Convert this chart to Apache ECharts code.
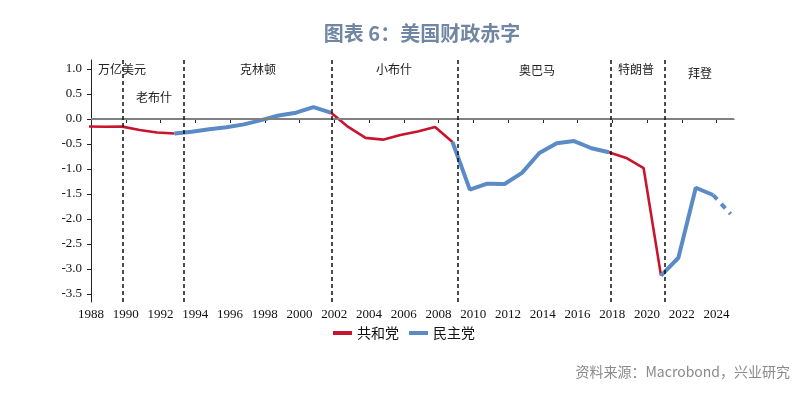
<!DOCTYPE html>
<html><head><meta charset="utf-8">
<script src="https://cdn.jsdelivr.net/npm/echarts@6/dist/echarts.min.js"></script>
<style>html,body{margin:0;padding:0;background:#fff}#c{width:806px;height:395px}</style>
</head><body><div id="c"></div>
<script>
// Fiscal years and federal budget balance (trillion USD)
const fiscalYears = [1987,1988,1989,1990,1991,1992,1993,1994,1995,1996,1997,1998,1999,2000,2001,2002,2003,2004,2005,2006,2007,2008,2009,2010,2011,2012,2013,2014,2015,2016,2017,2018,2019,2020,2021,2022,2023,2024];
const deficitTrillion = [-0.150,-0.155,-0.153,-0.221,-0.269,-0.290,-0.255,-0.203,-0.164,-0.107,-0.022,0.069,0.126,0.236,0.128,-0.158,-0.378,-0.413,-0.318,-0.248,-0.161,-0.459,-1.413,-1.294,-1.300,-1.077,-0.680,-0.485,-0.442,-0.585,-0.665,-0.779,-0.984,-3.132,-2.775,-1.375,-1.52,-1.90];
const fyEndOffset = 0.8; // fiscal-year end plotted within the year
// party segments (inclusive fiscal years)
const segParty = ['共和党','民主党','共和党','民主党','共和党','民主党','民主党'];
const segFrom  = [1987, 1992, 2001, 2008, 2017, 2020, 2023];
const segTo    = [1992, 2001, 2008, 2017, 2020, 2023, 2024];
const segForecast = [false,false,false,false,false,false,true];
// administration boundaries (axis years) and labels
const termBoundaries = [1989.85, 1993.35, 2001.85, 2009.1, 2017.9, 2021.0];
const presidentNames = ['老布什','克林顿','小布什','奥巴马','特朗普','拜登'];
const xTickYears = [1988,1990,1992,1994,1996,1998,2000,2002,2004,2006,2008,2010,2012,2014,2016,2018,2020,2022,2024];
const yTickValues = [1.0,0.5,0.0,-0.5,-1.0,-1.5,-2.0,-2.5,-3.0,-3.5];

const partyColor = {'共和党':'#c8142c','民主党':'#5b8bc6'};
const partyWidth = {'共和党':2.6,'民主党':4};

const series = segParty.map((p,i)=>{
  const data = [];
  fiscalYears.forEach((y,k)=>{ if(y>=segFrom[i] && y<=segTo[i]) data.push([y+fyEndOffset, deficitTrillion[k]]); });
  return {
    name: p, type:'line', data, showSymbol:false, symbol:'none', clip:true,
    itemStyle:{color:partyColor[p]},
    lineStyle:{color:partyColor[p], width:partyWidth[p], type: segForecast[i]?[6,6]:'solid'},
    z: 3
  };
});
series[0].markLine = {
  silent:true, symbol:'none', label:{show:false}, animation:false,
  data: [{yAxis:0, lineStyle:{color:'#808080', type:'solid', width:2}}].concat(
    termBoundaries.map(v=>({xAxis:v, lineStyle:{color:'#111', type:[4,3], width:1.5}})))
};

const labelFont = '12px "Noto Sans CJK SC", sans-serif';
const presX = [154, 258, 394, 537, 636, 700];
const presY = [97, 69, 69, 70, 69, 73];
const graphics = [{type:'text', style:{text:'万亿美元', x:98, y:69, font:labelFont, fill:'#222', textVerticalAlign:'middle'}, z:10}]
  .concat(presidentNames.map((n,i)=>({type:'text', style:{text:n, x:presX[i], y:presY[i], font:labelFont, fill:'#222', textAlign:'center', textVerticalAlign:'middle'}, z:10})));

const chart = echarts.init(document.getElementById('c'), null, {renderer:'canvas'});
chart.setOption({
  animation:false,
  backgroundColor:'#fff',
  title:{text:'图表 6：美国财政赤字', left:417, textAlign:'center', top:18,
    textStyle:{fontFamily:'"Noto Sans CJK SC", sans-serif', fontSize:20, fontWeight:'bold', color:'#7086a2'}},
  grid:{left:91, right:72, top:60, bottom:93, containLabel:false},
  legend:{data:['共和党','民主党'], left:328, top:321, icon:'rect', itemWidth:19, itemHeight:4, itemGap:10,
    textStyle:{fontFamily:'"Noto Sans CJK SC", sans-serif', fontSize:14, color:'#111'}},
  xAxis:{type:'value', min:1988, max:2025,
    axisLine:{lineStyle:{color:'#222', width:1}},
    axisTick:{show:true, customValues:xTickYears, length:4, lineStyle:{color:'#222'}},
    axisLabel:{customValues:xTickYears, formatter:v=>String(v), color:'#111', fontFamily:'"Liberation Serif", serif', fontSize:13, margin:6},
    splitLine:{show:false}},
  yAxis:{type:'value', min:-3.66, max:1.18,
    axisLine:{show:true, lineStyle:{color:'#222', width:1}},
    axisTick:{show:true, customValues:yTickValues, length:4, lineStyle:{color:'#222'}},
    axisLabel:{customValues:yTickValues, formatter:v=>v.toFixed(1), color:'#111', fontFamily:'"Liberation Serif", serif', fontSize:13, margin:9},
    splitLine:{show:false}},
  graphic:graphics.concat([{type:'text', right:16, top:365, style:{text:'资料来源：Macrobond，兴业研究', font:'14px "Noto Sans CJK SC", sans-serif', fill:'#8a8a8a'}}]),
  series
});
</script></body></html>
